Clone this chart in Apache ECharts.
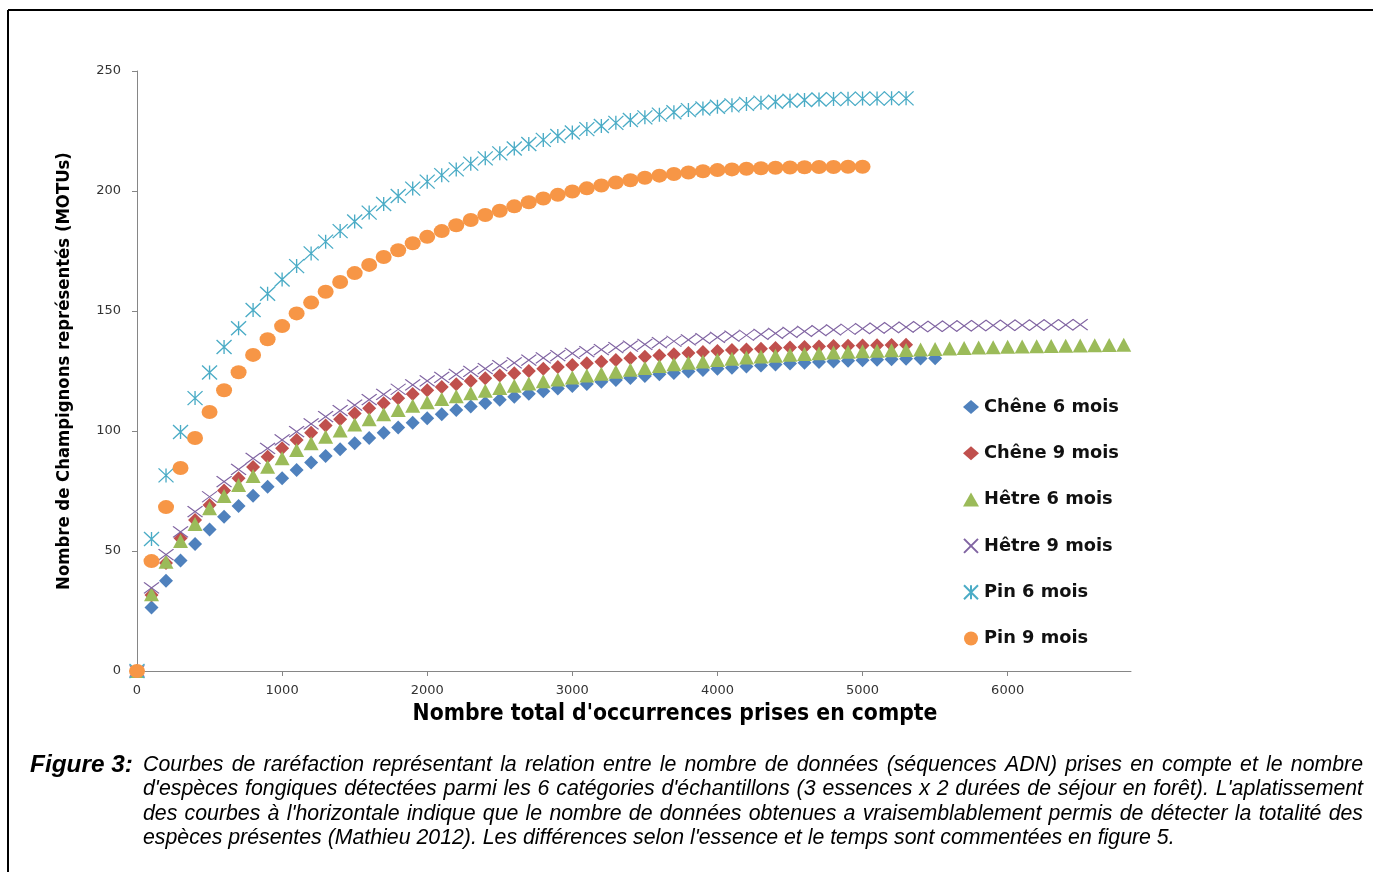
<!DOCTYPE html>
<html><head><meta charset="utf-8">
<script src="https://cdn.jsdelivr.net/npm/echarts@6/dist/echarts.min.js"></script>
<style>html,body{margin:0;padding:0;background:#fff}#c{width:1373px;height:872px}</style>
</head><body><div id="c"></div>
<script>
// ---- DATA ----
const occurrences = [0,100,200,300,400,500,600,700,800,900,1000,1100,1200,1300,1400,1500,1600,1700,1800,1900,2000,2100,2200,2300,2400,2500,2600,2700,2800,2900,3000,3100,3200,3300,3400,3500,3600,3700,3800,3900,4000,4100,4200,4300,4400,4500,4600,4700,4800,4900,5000,5100,5200,5300,5400,5500,5600,5700,5800,5900,6000,6100,6200,6300,6400,6500,6600,6700,6800];
const seriesNames = ['Chêne 6 mois','Chêne 9 mois','Hêtre 6 mois','Hêtre 9 mois','Pin 6 mois','Pin 9 mois'];
const chene6 = [0,26.5,37.6,46,52.9,59,64.3,68.8,73,76.8,
 80.3,83.7,86.9,89.6,92.4,94.9,97.1,99.3,101.5,103.4,
 105.3,107,108.7,110.2,111.7,113,114.3,115.5,116.6,117.7,
 118.7,119.6,120.5,121.3,122.1,122.9,123.6,124.2,124.8,125.4,
 125.9,126.4,126.9,127.3,127.7,128.1,128.4,128.7,129,129.3,
 129.5,129.7,129.9,130.1,130.2,130.3];
const chene9 = [0,31.7,45,55.3,62.9,69.2,75.2,80.3,85,89.3,
 92.8,96.2,99.3,102.3,104.9,107.3,109.5,111.6,113.6,115.4,
 117,118.3,119.5,120.8,122,123.1,124.1,125,125.9,126.7,
 127.5,128.2,128.9,129.6,130.3,130.9,131.5,132,132.5,132.9,
 133.3,133.7,134,134.3,134.6,134.8,135,135.2,135.4,135.5,
 135.6,135.7,135.8,135.9];
const hetre6 = [0,32,45.5,54.2,61.3,67.8,72.9,77.5,81.3,85.1,
 88.6,92.1,94.9,97.6,100.2,102.7,104.9,107,108.8,110.5,
 112,113.3,114.5,115.7,116.8,117.9,118.9,119.8,120.7,121.5,
 122.3,123.1,123.9,124.7,125.5,126.3,127.1,127.8,128.4,129,
 129.6,130.1,130.6,131,131.4,131.8,132.1,132.4,132.7,133,
 133.2,133.4,133.6,133.8,134,134.2,134.4,134.6,134.8,134.9,
 135.1,135.2,135.3,135.4,135.5,135.6,135.7,135.8,135.9];
const hetre9 = [0,34.6,48.5,58,66.4,72.6,78.9,84,88.6,92.8,
 96.3,99.7,103,106,108.5,110.8,113.1,115.3,117.4,119.2,
 120.9,122.3,123.6,124.8,126,127.2,128.4,129.5,130.5,131.4,
 132.3,133.1,133.9,134.7,135.4,136.1,136.8,137.4,138,138.5,
 139,139.5,139.9,140.3,140.7,141.1,141.5,141.8,142.1,142.4,
 142.7,142.9,143.1,143.3,143.5,143.6,143.7,143.8,143.9,144,
 144,144.1,144.1,144.2,144.2,144.3];
const pin6 = [0,55,81.5,99.6,113.7,124.4,135,142.8,150.4,157.2,
 163.1,168.7,174,178.9,183.3,187.3,191,194.6,197.9,201,
 203.9,206.6,209,211.4,213.6,215.7,217.7,219.6,221.3,222.9,
 224.4,225.8,227.1,228.4,229.6,230.7,231.8,232.8,233.7,234.4,
 235.1,235.7,236.3,236.8,237.2,237.6,237.9,238.1,238.3,238.4,
 238.5,238.5,238.6,238.6];
const pin9 = [0,45.8,68.3,84.6,97.1,107.9,117,124.5,131.7,138.2,
 143.7,149,153.5,158,162.1,165.8,169.2,172.5,175.3,178.2,
 180.9,183.3,185.7,187.9,190,191.8,193.6,195.3,196.9,198.4,
 199.8,201.1,202.3,203.5,204.5,205.5,206.4,207.1,207.7,208.2,
 208.7,209,209.3,209.5,209.7,209.8,209.9,210,210,210.1,
 210.1];
const xAxisTitle = "Nombre total d'occurrences prises en compte";
const yAxisTitle = "Nombre de Champignons représentés (MOTUs)";
const captionLabel = "Figure 3:";
const captionLines = [
 "Courbes de raréfaction représentant la relation entre le nombre de données (séquences ADN) prises en compte et le nombre",
 "d'espèces fongiques détectées parmi les 6 catégories d'échantillons (3 essences x 2 durées de séjour en forêt). L'aplatissement",
 "des courbes à l'horizontale indique que le nombre de données obtenues a vraisemblablement permis de détecter la totalité des",
 "espèces présentes (Mathieu 2012). Les différences selon l'essence et le temps sont commentées en figure 5."
];

// ---- helpers ----
const mctx = document.createElement('canvas').getContext('2d');
function measure(text, font){ mctx.font = font; return mctx.measureText(text).width; }
function fitSize(text, style, family, baseSize, target){
  const w = measure(text, style + ' ' + baseSize + 'px ' + family);
  return baseSize * target / w;
}
const capFamily = '"Liberation Sans", Arial, sans-serif';
const capSize = fitSize(captionLines[3], 'italic', capFamily, 19, 1032);
const capFont = 'italic ' + capSize.toFixed(2) + 'px ' + capFamily;
const figSize = fitSize(captionLabel, 'italic bold', capFamily, 20, 103);
const narrowFamily = '"Liberation Sans Narrow", "DejaVu Sans Condensed", sans-serif';
const yTitleSize = fitSize(yAxisTitle, 'bold', narrowFamily, 20, 438);
const xTitleSize = fitSize(xAxisTitle, 'bold', narrowFamily, 20, 525);
const legFamily = '"DejaVu Sans", Verdana, sans-serif';
const legSize = fitSize('Chêne 6 mois', 'bold', legFamily, 16, 135);

const graphics = [];
// frame
graphics.push({type:'line', shape:{x1:8,y1:10,x2:1373,y2:10}, style:{stroke:'#000',lineWidth:2}});
graphics.push({type:'line', shape:{x1:8,y1:10,x2:8,y2:872}, style:{stroke:'#000',lineWidth:2}});
// caption label
graphics.push({type:'text', x:30, y:765, style:{text:captionLabel, font:'italic bold '+figSize.toFixed(2)+'px '+capFamily, fill:'#000', verticalAlign:'middle'}});
const capYs = [765, 789, 814, 838];
captionLines.forEach((line, li) => {
  const words = line.split(' ');
  const ws = words.map(w => measure(w, capFont));
  const total = ws.reduce((a,b)=>a+b,0);
  const x0 = 143, x1 = 1363;
  const justify = li < captionLines.length - 1;
  const gap = justify ? (x1 - x0 - total) / (words.length - 1) : measure(' ', capFont);
  let x = x0;
  words.forEach((w, i) => {
    graphics.push({type:'text', x:x, y:capYs[li], style:{text:w, font:capFont, fill:'#000', verticalAlign:'middle'}});
    x += ws[i] + gap;
  });
});
// x axis title (offset to the right of the plot centre)
graphics.push({type:'text', x:675, y:714, style:{text:xAxisTitle, font:'bold '+xTitleSize.toFixed(2)+'px '+narrowFamily, fill:'#000', align:'center', verticalAlign:'middle'}});

const xPath = 'path://M0,0L10,10M10,0L0,10';
const starPath = 'path://M0,0L10,10M10,0L0,10M5,0L5,10';
function pts(arr){ return arr.map((v,i)=>[occurrences[i], v]); }

const chart = echarts.init(document.getElementById('c'), null, {renderer:'canvas'});
chart.setOption({
  animation:false,
  backgroundColor:'#fff',
  grid:{left:137, right:242, top:71, bottom:201, containLabel:false},
  xAxis:{type:'value', min:0, max:6850, interval:1000,
    axisLine:{lineStyle:{color:'#868686', width:1}},
    axisTick:{show:true, length:5, lineStyle:{color:'#868686'}},
    splitLine:{show:false},
    axisLabel:{color:'#333', fontSize:13, fontFamily:legFamily, margin:13, showMaxLabel:false,
      formatter:v => (v % 1000 === 0 ? String(v) : '')}
  },
  yAxis:{type:'value', min:0, max:250, interval:50,
    name:yAxisTitle, nameLocation:'middle', nameGap:64,
    nameTextStyle:{fontFamily:narrowFamily, fontWeight:'bold', fontSize:yTitleSize, color:'#000'},
    axisLine:{show:true, lineStyle:{color:'#868686', width:1}},
    axisTick:{show:true, length:5, lineStyle:{color:'#868686'}},
    splitLine:{show:false},
    axisLabel:{color:'#333', fontSize:13, fontFamily:legFamily, margin:16}
  },
  legend:{orient:'vertical', left:958, top:393, itemWidth:16, itemHeight:14, itemGap:28.3,
    textStyle:{fontFamily:legFamily, fontWeight:'bold', fontSize:legSize, color:'#111'},
    data:seriesNames},
  series:[
    {name:seriesNames[0], type:'scatter', data:pts(chene6), symbol:'diamond', symbolSize:[14,14], itemStyle:{color:'#4F81BD', opacity:1}},
    {name:seriesNames[1], type:'scatter', data:pts(chene9), symbol:'diamond', symbolSize:[14,14], itemStyle:{color:'#C0504D', opacity:1}},
    {name:seriesNames[2], type:'scatter', data:pts(hetre6), symbol:'triangle', symbolSize:[15,14], itemStyle:{color:'#9BBB59', opacity:1}},
    {name:seriesNames[3], type:'scatter', data:pts(hetre9), symbol:xPath, symbolSize:[15,11], itemStyle:{color:'rgba(0,0,0,0)', borderColor:'#8064A2', borderWidth:1.2, opacity:1}},
    {name:seriesNames[4], type:'scatter', data:pts(pin6), symbol:starPath, symbolSize:[15,14], itemStyle:{color:'rgba(0,0,0,0)', borderColor:'#4BACC6', borderWidth:1.3, opacity:1}},
    {name:seriesNames[5], type:'scatter', data:pts(pin9), symbol:'circle', symbolSize:[16,14], itemStyle:{color:'#F79646', opacity:1}}
  ],
  graphic:graphics
});
</script>
</body></html>
